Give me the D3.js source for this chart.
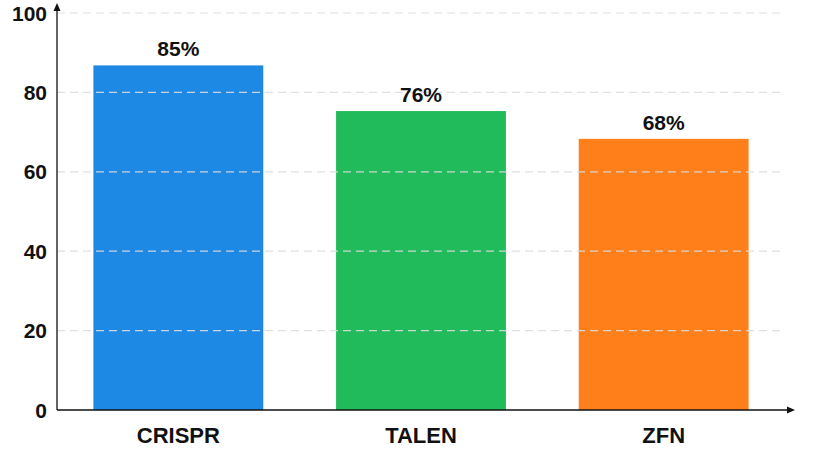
<!DOCTYPE html>
<html><head><meta charset="utf-8">
<script src="https://cdn.jsdelivr.net/npm/d3@7"></script>
<style>body{margin:0;background:#fff}</style></head>
<body><svg id="c" width="822" height="457"></svg>
<script>
const categories=["CRISPR","TALEN","ZFN"];
const values=[86.8,75.3,68.3];
const labels=["85%","76%","68%"];
const colors=["#1e88e5","#22bb5b","#ff7f1a"];
const yTicks=[0,20,40,60,80,100];
const svg=d3.select("#c");
const x=d3.scaleBand().domain(categories).range([57,785]).paddingInner(0.3).paddingOuter(0.15);
const y=d3.scaleLinear().domain([0,100]).range([410,13]);
const font="Liberation Sans, Arial, sans-serif";
svg.selectAll("rect.bar").data(categories).enter().append("rect")
 .attr("x",d=>x(d)).attr("width",x.bandwidth())
 .attr("y",(d,i)=>y(values[i])).attr("height",(d,i)=>y(0)-y(values[i]))
 .attr("fill",(d,i)=>colors[i]);
svg.selectAll("line.grid").data(yTicks.slice(1)).enter().append("line")
 .attr("x1",57).attr("x2",785).attr("y1",d=>y(d)).attr("y2",d=>y(d))
 .attr("stroke","#ddd").attr("stroke-width",1.2).attr("stroke-dasharray","8,5").attr("opacity",0.9);
svg.selectAll("text.yt").data(yTicks).enter().append("text")
 .attr("x",47).attr("y",d=>y(d)+7.5).attr("text-anchor","end")
 .attr("font-family",font).attr("font-weight","bold").attr("font-size",21).attr("fill","#111").text(d=>d);
svg.selectAll("text.v").data(categories).enter().append("text")
 .attr("x",d=>x(d)+x.bandwidth()/2).attr("y",(d,i)=>y(values[i])-9).attr("text-anchor","middle")
 .attr("font-family",font).attr("font-weight","bold").attr("font-size",21).attr("fill","#111").text((d,i)=>labels[i]);
svg.selectAll("text.c").data(categories).enter().append("text")
 .attr("x",d=>x(d)+x.bandwidth()/2).attr("y",443).attr("text-anchor","middle")
 .attr("font-family",font).attr("font-weight","bold").attr("font-size",22).attr("fill","#111").text(d=>d);
svg.append("line").attr("x1",57).attr("x2",57).attr("y1",410).attr("y2",8).attr("stroke","#111").attr("stroke-width",1.3);
svg.append("line").attr("x1",57).attr("x2",790).attr("y1",410).attr("y2",410).attr("stroke","#111").attr("stroke-width",1.3);
svg.append("path").attr("d","M57,3 L53.5,11 L60.5,11 Z").attr("fill","#111");
svg.append("path").attr("d","M795,410 L787,406.5 L787,413.5 Z").attr("fill","#111");
</script></body></html>
